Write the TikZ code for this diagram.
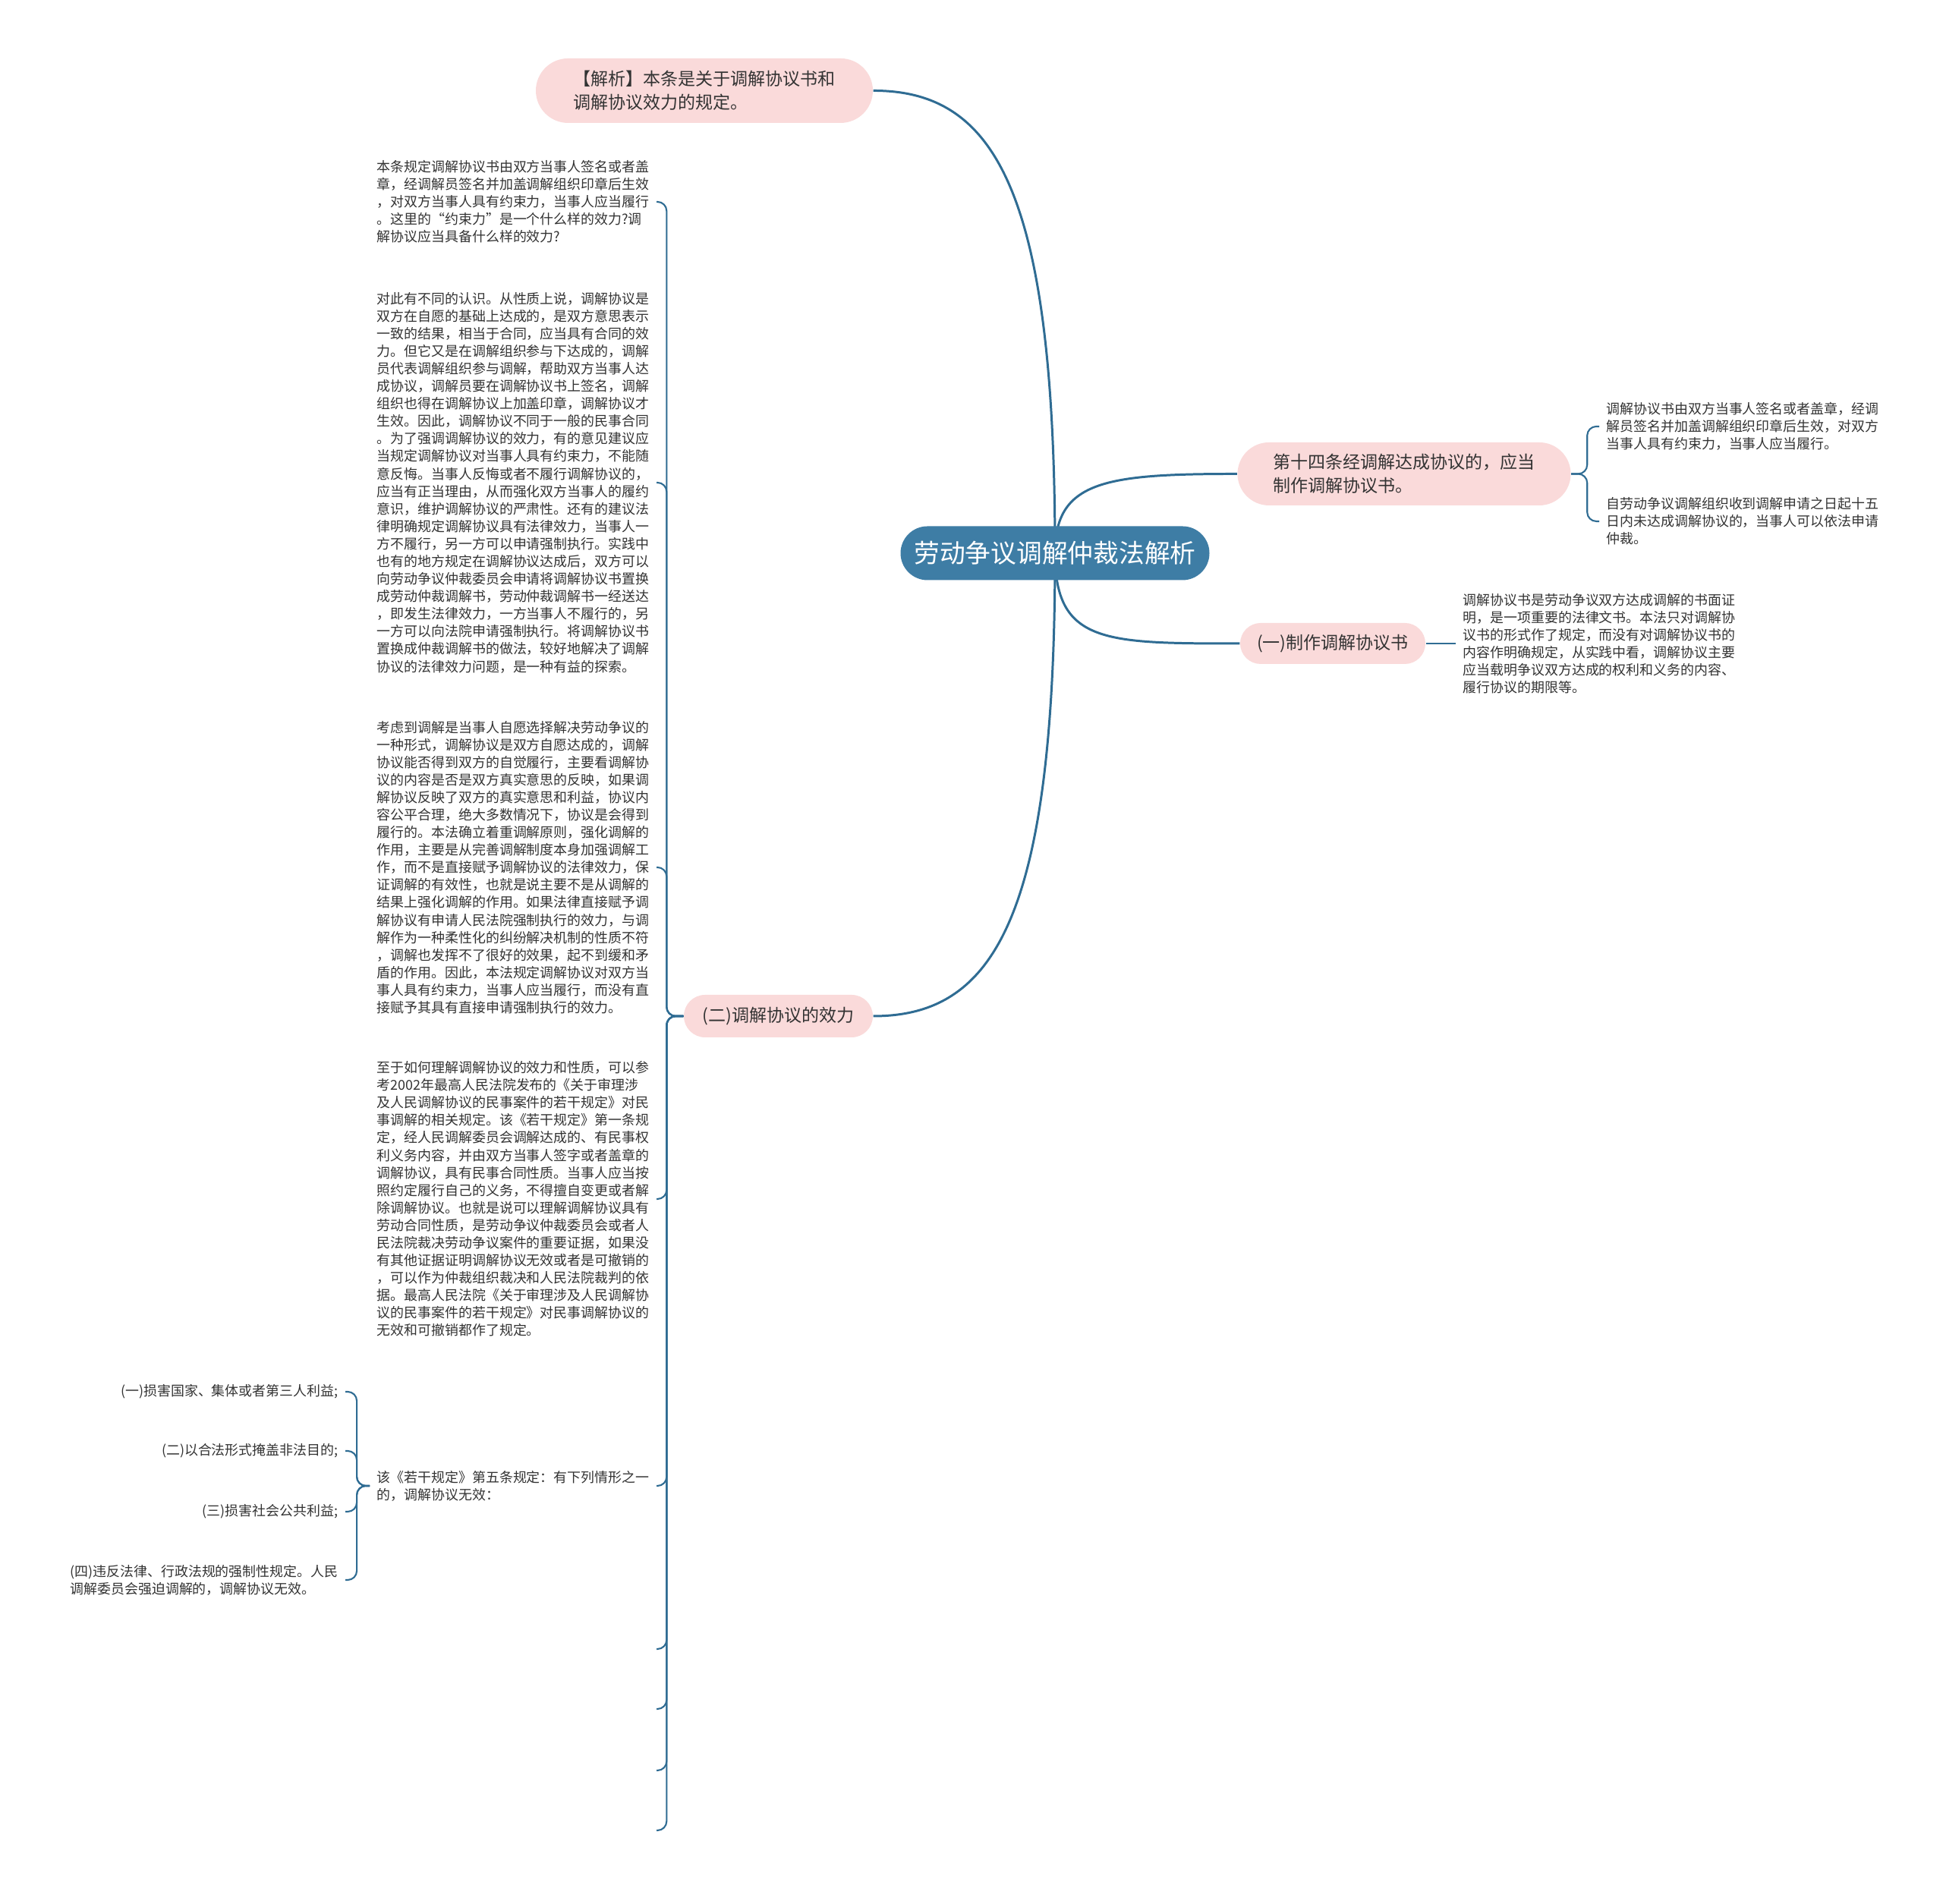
\documentclass[tikz,border=0pt]{standalone}
\usepackage{fontspec}
\setmainfont{Noto Sans CJK SC}
\usepackage{xcolor}
\usepackage{tikz}
\usetikzlibrary{shapes.misc, backgrounds}

\definecolor{rootblue}{HTML}{3E7DA5}
\definecolor{pinkfill}{HTML}{FADADA}
\definecolor{linkblue}{HTML}{2F6C93}
\definecolor{textgray}{HTML}{333333}

\tikzset{
    rootnode/.style={rounded rectangle, fill=rootblue, text=white, minimum height=0.71cm,
        minimum width=4.09cm, inner xsep=0.01cm, font=\fontsize{9.6pt}{12pt}\selectfont},
    topicnode/.style={rounded rectangle, fill=pinkfill, text=textgray, align=left,
        inner xsep=0.01cm, font=\fontsize{6.55pt}{8.82pt}\selectfont},
    notenode/.style={text=textgray, align=left, inner xsep=0.09cm, inner ysep=0pt,
        font=\fontsize{5.1pt}{6.57pt}\selectfont},
    linkline/.style={draw=linkblue, line width=0.85pt},
    braceline/.style={draw=linkblue, line width=0.6pt, rounded corners=0.12cm},
}

\begin{document}
\begin{tikzpicture}
            % 1. 中心主题与分支
            \node[rootnode] (root) at (13.90,17.80) {劳动争议调解仲裁法解析};
            \node[topicnode, minimum height=0.85cm, minimum width=4.46cm] (jiexi) at (9.28,23.895)
                {【解析】本条是关于调解协议书和\\调解协议效力的规定。};
            \node[topicnode, minimum height=0.83cm, minimum width=4.41cm] (shisi) at (18.50,18.845)
                {第十四条经调解达成协议的，应当\\制作调解协议书。};
            \node[topicnode, minimum height=0.54cm, minimum width=2.46cm] (zhizuo) at (17.56,16.61) {(一)制作调解协议书};
            \node[topicnode, minimum height=0.56cm, minimum width=2.51cm] (xiaoli) at (10.255,11.70) {(二)调解协议的效力};

            % 2. 右侧说明
            \node[notenode, anchor=west] (shisiA) at (21.07,19.47) {调解协议书由双方当事人签名或者盖章，经调\\
解员签名并加盖调解组织印章后生效，对双方\\
当事人具有约束力，当事人应当履行。};
            \node[notenode, anchor=west] (shisiB) at (21.07,18.22) {自劳动争议调解组织收到调解申请之日起十五\\
日内未达成调解协议的，当事人可以依法申请\\
仲裁。};
            \node[notenode, anchor=west] (zhizuoA) at (19.18,16.61) {调解协议书是劳动争议双方达成调解的书面证\\
明，是一项重要的法律文书。本法只对调解协\\
议书的形式作了规定，而没有对调解协议书的\\
内容作明确规定，从实践中看，调解协议主要\\
应当载明争议双方达成的权利和义务的内容、\\
履行协议的期限等。};

            % 3. 左侧说明
            \node[notenode, anchor=east] (xiaoliA) at (8.65,22.43) {本条规定调解协议书由双方当事人签名或者盖\\
章，经调解员签名并加盖调解组织印章后生效\\
，对双方当事人具有约束力，当事人应当履行\\
。这里的“约束力”是一个什么样的效力?调\\
解协议应当具备什么样的效力?};
            \node[notenode, anchor=east] (xiaoliB) at (8.65,18.73) {对此有不同的认识。从性质上说，调解协议是\\
双方在自愿的基础上达成的，是双方意思表示\\
一致的结果，相当于合同，应当具有合同的效\\
力。但它又是在调解组织参与下达成的，调解\\
员代表调解组织参与调解，帮助双方当事人达\\
成协议，调解员要在调解协议书上签名，调解\\
组织也得在调解协议上加盖印章，调解协议才\\
生效。因此，调解协议不同于一般的民事合同\\
。为了强调调解协议的效力，有的意见建议应\\
当规定调解协议对当事人具有约束力，不能随\\
意反悔。当事人反悔或者不履行调解协议的，\\
应当有正当理由，从而强化双方当事人的履约\\
意识，维护调解协议的严肃性。还有的建议法\\
律明确规定调解协议具有法律效力，当事人一\\
方不履行，另一方可以申请强制执行。实践中\\
也有的地方规定在调解协议达成后，双方可以\\
向劳动争议仲裁委员会申请将调解协议书置换\\
成劳动仲裁调解书，劳动仲裁调解书一经送达\\
，即发生法律效力，一方当事人不履行的，另\\
一方可以向法院申请强制执行。将调解协议书\\
置换成仲裁调解书的做法，较好地解决了调解\\
协议的法律效力问题，是一种有益的探索。};
            \node[notenode, anchor=east] (xiaoliC) at (8.65,13.66) {考虑到调解是当事人自愿选择解决劳动争议的\\
一种形式，调解协议是双方自愿达成的，调解\\
协议能否得到双方的自觉履行，主要看调解协\\
议的内容是否是双方真实意思的反映，如果调\\
解协议反映了双方的真实意思和利益，协议内\\
容公平合理，绝大多数情况下，协议是会得到\\
履行的。本法确立着重调解原则，强化调解的\\
作用，主要是从完善调解制度本身加强调解工\\
作，而不是直接赋予调解协议的法律效力，保\\
证调解的有效性，也就是说主要不是从调解的\\
结果上强化调解的作用。如果法律直接赋予调\\
解协议有申请人民法院强制执行的效力，与调\\
解作为一种柔性化的纠纷解决机制的性质不符\\
，调解也发挥不了很好的效果，起不到缓和矛\\
盾的作用。因此，本法规定调解协议对双方当\\
事人具有约束力，当事人应当履行，而没有直\\
接赋予其具有直接申请强制执行的效力。};
            \node[notenode, anchor=east] (xiaoliD) at (8.65,9.29) {至于如何理解调解协议的效力和性质，可以参\\
考2002年最高人民法院发布的《关于审理涉\\
及人民调解协议的民事案件的若干规定》对民\\
事调解的相关规定。该《若干规定》第一条规\\
定，经人民调解委员会调解达成的、有民事权\\
利义务内容，并由双方当事人签字或者盖章的\\
调解协议，具有民事合同性质。当事人应当按\\
照约定履行自己的义务，不得擅自变更或者解\\
除调解协议。也就是说可以理解调解协议具有\\
劳动合同性质，是劳动争议仲裁委员会或者人\\
民法院裁决劳动争议案件的重要证据，如果没\\
有其他证据证明调解协议无效或者是可撤销的\\
，可以作为仲裁组织裁决和人民法院裁判的依\\
据。最高人民法院《关于审理涉及人民调解协\\
议的民事案件的若干规定》对民事调解协议的\\
无效和可撤销都作了规定。};
            \node[notenode, anchor=east] (xiaoliE) at (8.65,5.51) {该《若干规定》第五条规定：有下列情形之一\\
的，调解协议无效：};
            \foreach \i/\y in {1/3.36, 2/2.57, 3/1.76, 4/0.97}
                \coordinate (kong\i) at (8.65,\y);

            % 4. 无效情形
            \node[notenode, anchor=east] (wuxiao1) at (4.55,6.75) {(一)损害国家、集体或者第三人利益;};
            \node[notenode, anchor=east] (wuxiao2) at (4.55,5.97) {(二)以合法形式掩盖非法目的;};
            \node[notenode, anchor=east] (wuxiao3) at (4.55,5.17) {(三)损害社会公共利益;};
            \node[notenode, anchor=east] (wuxiao4) at (4.55,4.27) {(四)违反法律、行政法规的强制性规定。人民\\
调解委员会强迫调解的，调解协议无效。};

            % 5. 连线
            \begin{scope}[on background layer]
                \fill[white] (0,0) rectangle (25.60,25.09);
                \draw[linkline] (root.center) .. controls (13.90,22.60) and (13.10,23.895) .. (jiexi.east);
                \draw[linkline] (root.center) .. controls (13.90,13.00) and (13.10,11.70) .. (xiaoli.east);
                \draw[linkline] (root.center) .. controls (13.90,18.75) and (14.55,18.845) .. (shisi.west);
                \draw[linkline] (root.center) .. controls (13.90,16.61) and (14.55,16.61) .. (zhizuo.west);
            \end{scope}
            \foreach \c in {shisiA,shisiB}
                \draw[braceline] (shisi.east) -- ++(0.21,0) |- (\c.west);
            \draw[braceline] (zhizuo.east) -- (zhizuoA.west);
            \foreach \c in {xiaoliA,xiaoliB,xiaoliC,xiaoliD,xiaoliE}
                \draw[braceline] (xiaoli.west) -- ++(-0.22,0) |- (\c.east);
            \foreach \i in {1,...,4}
                \draw[braceline] (xiaoli.west) -- ++(-0.22,0) |- (kong\i);
            \foreach \i in {1,...,4}
                \draw[braceline] (xiaoliE.west) -- ++(-0.17,0) |- (wuxiao\i.east);
\end{tikzpicture}
\end{document}
